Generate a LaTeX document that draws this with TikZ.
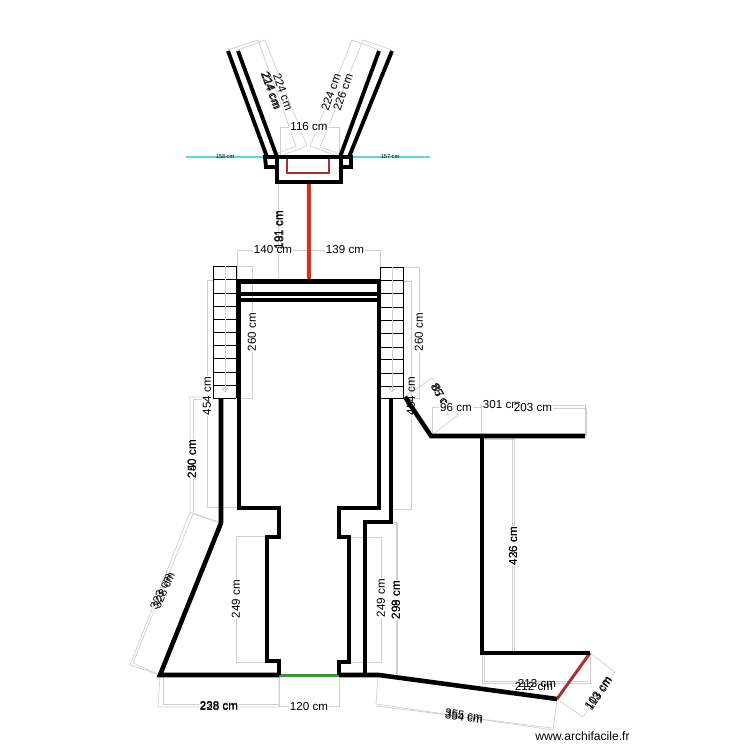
\documentclass[tikz,border=0pt]{standalone}
\usepackage{fontspec}
\setmainfont{Liberation Sans}
\definecolor{wallred}{HTML}{E03010}
\definecolor{wallbrown}{HTML}{A83232}
\definecolor{wallgreen}{HTML}{2CA02C}
\definecolor{wallcyan}{HTML}{55DDDD}
\tikzset{
  wallline/.style={line width=2.6pt,line join=miter},
  thinwall/.style={line width=2.2pt,line join=miter},
  dimline/.style={draw=black!19,line width=0.4pt},
  dimtext/.style={font=\fontsize{6.6}{7}\selectfont,fill=white,inner sep=0.6pt},
  overtext/.style={font=\fontsize{6.6}{7}\selectfont,inner sep=0.6pt},
  smalltext/.style={font=\fontsize{3.2}{4}\selectfont,inner sep=0pt},
  stepline/.style={line width=0.45pt}
}
\begin{document}
\begin{tikzpicture}[x=0.02cm,y=-0.02cm]
\useasboundingbox (0,0) rectangle (750,750);
% dimensions top
\draw[dimline](228,50)--(258,40)--(296,146)--(268,157);
\draw[dimline](238,50)--(265,40)--(307,146)--(278,157);
\draw[dimline](379,50)--(352,40)--(310,146)--(340,157);
\draw[dimline](392,50)--(363,40)--(320,147)--(349,157);
\draw[dimline](280,157)--(280,127)--(339,127)--(339,157);
\draw[dimline](278,183)--(278,280)--(309,280);
\draw[dimline](237,281)--(237,250)--(380,250)--(380,281);
% dimensions stairs
\draw[dimline](237,266)--(252,266)--(252,398)--(237,398);
\draw[dimline](403,267)--(419,267)--(419,398)--(403,398);
\draw[dimline](213,280)--(207,280)--(207,507)--(239,507);
\draw[dimline](403,281)--(411,281)--(411,509)--(391,509);
% dimensions left
\draw[dimline](213,397)--(190,397)--(190,512)--(221,523);
\draw[dimline](213,399)--(193,399)--(193,512);
\draw[dimline](160,675)--(130,665)--(190,512);
\draw[dimline](160,675)--(133,663)--(193,514)--(221,523);
\draw[dimline](267,536)--(236,536)--(236,662)--(267,662);
\draw[dimline](160,675)--(158,707)--(279,707)--(279,675);
\draw[dimline](163,675)--(163,704)--(279,704);
\draw[dimline](279,675)--(279,706)--(339,706)--(339,675);
% dimensions right
\draw[dimline](349,537)--(381,537)--(381,662)--(349,662);
\draw[dimline](391,522)--(396,522)--(396,674);
\draw[dimline](391,522)--(397,522)--(397,674);
\draw[dimline](378,675)--(376,704)--(553,730)--(557,699);
\draw[dimline](376,706)--(552,728);
\draw[dimline](405,397)--(432,378)--(458,415)--(432,435);
\draw[dimline](432,436)--(432,407)--(481,407)--(481,436);
\draw[dimline](481,436)--(481,405)--(585,405)--(585,436);
\draw[dimline](482,408)--(586,408)--(586,436);
\draw[dimline](482,437)--(512,437)--(512,653);
\draw[dimline](482,439)--(514,439)--(514,653);
\draw[dimline](482,653)--(482,683)--(590,683)--(590,653);
\draw[dimline](484,653)--(484,681)--(588,681);
\draw[dimline](590,653)--(615,672)--(583,717)--(557,699);
% stairs
\foreach \y in {266,279,293,306,319,332,345,358,372,385,398}{
  \draw[stepline](213,\y)--(236,\y);
}
\foreach \y in {267,280,293,307,320,333,347,359,373,386,398}{
  \draw[stepline](380,\y)--(403,\y);
}
\draw[stepline](213,266)--(213,398);
\draw[stepline](236,266)--(236,398);
\draw[stepline](380,267)--(380,398);
\draw[stepline](403,267)--(403,398);
\draw[dimline](225,266)--(225,392);
\draw[dimline](392,267)--(392,392);
\draw[dimline](222,388)--(228,388)--(225,392)--cycle;
\draw[dimline](389,388)--(395,388)--(392,392)--cycle;
% cyan line and red lines
\draw[line width=1.5pt,color=wallcyan](186,157)--(430,157);
\draw[line width=2.2pt,color=wallred](309,183)--(309,281);
\draw[line width=1.7pt,color=wallbrown](287,158)--(287,173)--(329,173)--(329,158);
\draw[line width=1.7pt,color=wallbrown](557,699)--(590,653);
\draw[line width=1.7pt,color=wallgreen](279,675)--(339,675);
% walls top
\draw[thinwall](228,51)--(267,157);
\draw[thinwall](238,51)--(277,157);
\draw[thinwall](379,51)--(340,157);
\draw[thinwall](392,51)--(349,157);
\draw[thinwall](265,157)--(351,157)--(351,167)--(341,167)--(341,182)--(277,182)--(277,167)--(266,167)--cycle;
\draw[thinwall](277,157)--(277,167);
\draw[thinwall](341,157)--(341,167);
% walls main
\draw[wallline](237,281.5)--(381,281.5);
\draw[wallline](237,294)--(381,294);
\draw[wallline](237,300)--(381,300);
\draw[wallline](239,281)--(239,508)--(279,508)--(279,537)--(267,537)--(267,661)--(279,661)--(279,675);
\draw[wallline](379,281)--(379,508)--(339,508)--(339,537)--(349,537)--(349,662)--(339,662)--(339,675);
\draw[wallline](221,398)--(221,523)--(160,675)--(279,675);
\draw[wallline](391,398)--(391,522)--(365,522)--(365,675);
\draw[wallline](339,675)--(379,675)--(557,699);
\draw[wallline](405,397)--(431,436)--(585,436);
\draw[wallline](482,436)--(482,653)--(590,653);
% labels
\node[overtext,rotate=-70] (lab214) at (272,91){214 cm};
\node[overtext,rotate=-70] (lab224b) at (271,90){224 cm};
\node[overtext,rotate=-70] (lab224c) at (283,92){224 cm};
\node[overtext,rotate=70] (lab224d) at (331,92){224 cm};
\node[overtext,rotate=70] (lab226) at (343,92){226 cm};
\node[dimtext] (lab116) at (309,127){116 cm};
\node[smalltext] (lab158) at (225,157){158 cm};
\node[smalltext] (lab157) at (390,157){157 cm};
\node[dimtext] (lab140) at (273,250){140 cm};
\node[dimtext] (lab139) at (345,250){139 cm};
\node[overtext,rotate=90] (lab191a) at (278.5,230){191 cm};
\node[overtext,rotate=90] (lab191b) at (279.5,230){181 cm};
\node[dimtext,rotate=90] (lab260a) at (252,332){260 cm};
\node[dimtext,rotate=90] (lab260b) at (419,332){260 cm};
\node[dimtext,rotate=90] (lab454a) at (207,396){454 cm};
\node[overtext,rotate=90] (lab454b) at (411,396){454 cm};
\node[dimtext,rotate=90] (lab240) at (192,459){240 cm};
\node[overtext,rotate=90] (lab250) at (192,459){250 cm};
\node[overtext,rotate=66] (lab323) at (161,591){323 cm};
\node[overtext,rotate=66] (lab328) at (164,590){328 cm};
\node[dimtext,rotate=90] (lab249a) at (236,599){249 cm};
\node[dimtext,rotate=90] (lab249b) at (381,598){249 cm};
\node[dimtext,rotate=90] (lab298) at (396,600){298 cm};
\node[overtext,rotate=90] (lab299) at (396,600){299 cm};
\node[dimtext] (lab228) at (219,706){228 cm};
\node[overtext] (lab238) at (219,705){238 cm};
\node[dimtext] (lab120) at (309,706){120 cm};
\node[overtext,rotate=-8] (lab355) at (464,715.5){355 cm};
\node[overtext,rotate=-8] (lab354) at (464,717.5){354 cm};
\node[overtext] (lab213) at (537,683){213 cm};
\node[overtext] (lab212) at (534,686){212 cm};
\node[overtext,rotate=55] (lab103) at (598,693){103 cm};
\node[overtext,rotate=55] (lab113) at (599,694){113 cm};
\node[dimtext,rotate=90] (lab426) at (513,546){426 cm};
\node[overtext,rotate=90] (lab436) at (513,546){436 cm};
\node[overtext,rotate=-58] (lab85) at (442,398){85 cm};
\node[overtext,rotate=-58] (lab87) at (443,399){87 cm};
\node[dimtext] (lab96) at (456,408){96 cm};
\node[dimtext] (lab301) at (502,405){301 cm};
\node[dimtext] (lab203) at (533,408){203 cm};
\node[font=\fontsize{6.9}{8}\selectfont,inner sep=0pt,anchor=east] (labsite) at (630,736){www.archifacile.fr};
\end{tikzpicture}
\end{document}
